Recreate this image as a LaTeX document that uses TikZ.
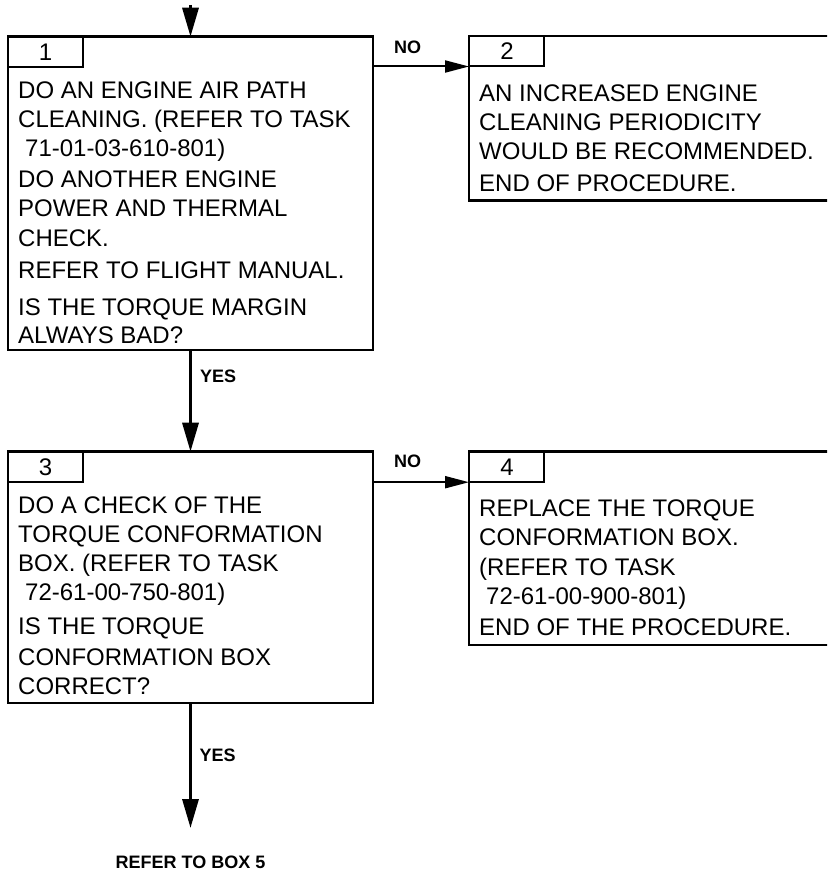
\documentclass[tikz,border=0pt]{standalone}
\usepackage{fontspec}
\setmainfont{Liberation Sans}
\usetikzlibrary{arrows.meta}
\begin{document}
\begin{tikzpicture}[x=1pt,y=-1pt,
  boxshape/.style={draw, line width=2.6pt, rectangle, inner sep=0pt, outer sep=0pt, anchor=north west},
  tabshape/.style={draw, line width=2pt, rectangle, inner sep=0pt, outer sep=0pt, anchor=north west, minimum width=75pt, minimum height=30.5pt},
  txt/.style={anchor=base west, inner sep=0pt, font=\fontsize{24}{29}\selectfont},
  numtxt/.style={anchor=base, inner sep=0pt, font=\fontsize{24}{29}\selectfont},
  lbl/.style={anchor=base west, inner sep=0pt, font=\fontsize{18}{20}\selectfont\bfseries},
  varrow/.style={line width=3.3pt, -{Triangle[length=29pt,width=16pt]}},
  harrow/.style={line width=2pt, -{Triangle[length=24pt,width=12pt]}}]
\path[use as bounding box] (0,0) rectangle (827,872);
\clip (0,0) rectangle (827,872);

% boxes
\node[boxshape, minimum width=365pt, minimum height=313.3pt] (b1) at (8,36.7) {};
\node[tabshape] (t1) at (b1.north west) {};
\node[numtxt] (n1) at (45.5,60.3) {1};

\node[boxshape, minimum width=420pt, minimum height=164.7pt] (b2) at (469,36) {};
\node[tabshape] (t2) at (b2.north west) {};
\node[numtxt] (n2) at (507,60) {2};

\node[boxshape, minimum width=365pt, minimum height=251.3pt] (b3) at (8,451.7) {};
\node[tabshape] (t3) at (b3.north west) {};
\node[numtxt] (n3) at (45.5,475.3) {3};

\node[boxshape, minimum width=420pt, minimum height=193.3pt] (b4) at (469,451.7) {};
\node[tabshape] (t4) at (b4.north west) {};
\node[numtxt] (n4) at (507,475.3) {4};

% box 1 text
\node[txt] (b1l1) at (18,98.6) {DO AN ENGINE AIR PATH};
\node[txt] (b1l2) at (18,127.2) {CLEANING. (REFER TO TASK};
\node[txt] (b1l3) at (25,156.2) {71-01-03-610-801)};
\node[txt] (b1l4) at (18,187.6) {DO ANOTHER ENGINE};
\node[txt] (b1l5) at (18,216.9) {POWER AND THERMAL};
\node[txt] (b1l6) at (18,246.3) {CHECK.};
\node[txt] (b1l7) at (18,278.6) {REFER TO FLIGHT MANUAL.};
\node[txt] (b1l8) at (18,315.3) {IS THE TORQUE MARGIN};
\node[txt] (b1l9) at (18,343.6) {ALWAYS BAD?};

% box 2 text
\node[txt] (b2l1) at (479,101.7) {AN INCREASED ENGINE};
\node[txt] (b2l2) at (479,130.8) {CLEANING PERIODICITY};
\node[txt] (b2l3) at (479,159.3) {WOULD BE RECOMMENDED.};
\node[txt] (b2l4) at (479,191.7) {END OF PROCEDURE.};

% box 3 text
\node[txt] (b3l1) at (18,513.5) {DO A CHECK OF THE};
\node[txt] (b3l2) at (18,542.5) {TORQUE CONFORMATION};
\node[txt] (b3l3) at (18,571.5) {BOX. (REFER TO TASK};
\node[txt] (b3l4) at (25,600) {72-61-00-750-801)};
\node[txt] (b3l5) at (18,634.5) {IS THE TORQUE};
\node[txt] (b3l6) at (18,665) {CONFORMATION BOX};
\node[txt] (b3l7) at (18,694.5) {CORRECT?};

% box 4 text
\node[txt] (b4l1) at (479,516.5) {REPLACE THE TORQUE};
\node[txt] (b4l2) at (479,545.5) {CONFORMATION BOX.};
\node[txt] (b4l3) at (479,575) {(REFER TO TASK};
\node[txt] (b4l4) at (486,604) {72-61-00-900-801)};
\node[txt] (b4l5) at (479,635) {END OF THE PROCEDURE.};

% connectors
\coordinate (start) at (190.5,5);
\coordinate (finish) at (190.5,828);
\draw[varrow] (start) -- (b1.north);
\draw[varrow] (b1.south) -- (b3.north);
\draw[varrow] (b3.south) -- (finish);
\draw[harrow] (b1.north east |- t2.south west) -- (t2.south west);
\draw[harrow] (b3.north east |- t4.south west) -- (t4.south west);

% labels
\node[lbl] (no1) at (394,53.3) {NO};
\node[lbl] (no2) at (394,467) {NO};
\node[lbl] (yes1) at (200,382.5) {YES};
\node[lbl] (yes2) at (199.5,761.5) {YES};
\node[anchor=base, inner sep=0pt, font=\fontsize{18}{20}\selectfont\bfseries] (ref5) at (190.5,868.3) {REFER TO BOX 5};
\end{tikzpicture}
\end{document}
